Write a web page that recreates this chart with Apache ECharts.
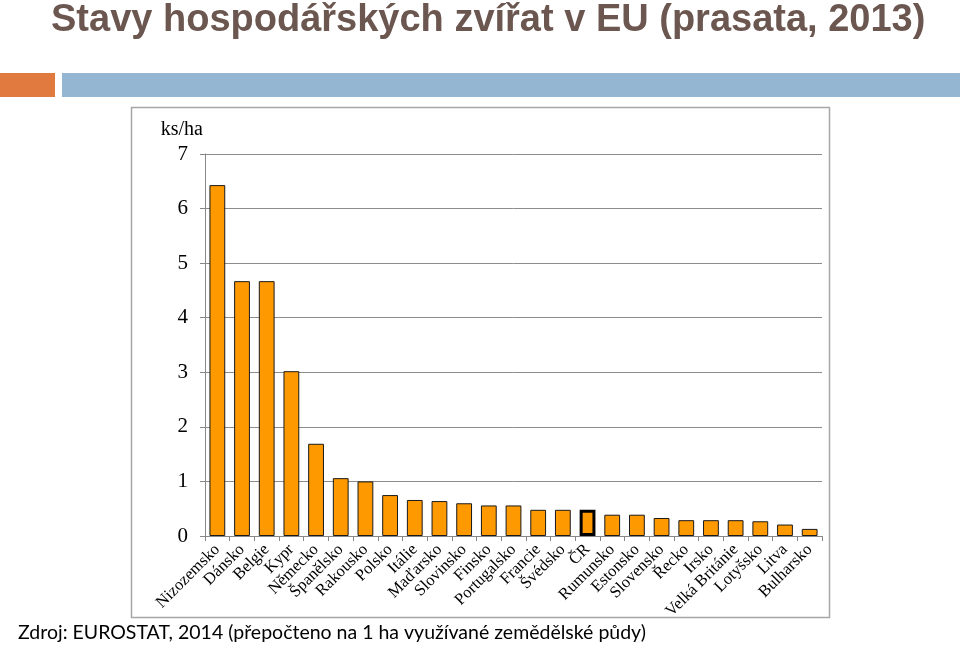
<!DOCTYPE html>
<html>
<head>
<meta charset="utf-8">
<script src="https://cdn.jsdelivr.net/npm/echarts@6/dist/echarts.min.js"></script>
<style>
  html, body { margin: 0; padding: 0; background: #fff; }
  #chart { width: 960px; height: 648px; }
</style>
</head>
<body>
<div id="chart"></div>
<script>
const countries = ["Nizozemsko", "Dánsko", "Belgie", "Kypr", "Německo", "Španělsko", "Rakousko", "Polsko", "Itálie", "Maďarsko", "Slovinsko", "Finsko", "Portugalsko", "Francie", "Švédsko", "ČR", "Rumunsko", "Estonsko", "Slovensko", "Řecko", "Irsko", "Velká Británie", "Lotyšsko", "Litva", "Bulharsko"];
const pigsPerHa = [6.43, 4.67, 4.67, 3.02, 1.69, 1.06, 1.0, 0.75, 0.66, 0.64, 0.6, 0.56, 0.56, 0.48, 0.48, 0.48, 0.39, 0.39, 0.33, 0.29, 0.29, 0.29, 0.27, 0.21, 0.13];
const highlight = "ČR";

const chart = echarts.init(document.querySelector("#chart"));

chart.setOption({
  animation: false,
  title: {
    text: "Stavy hospodářských zvířat v EU (prasata, 2013)",
    left: 46,
    top: -3,
    textStyle: { fontFamily: "Liberation Sans, sans-serif", fontSize: 38, fontWeight: "bold", color: "#6b5750" },
  },
  graphic: [
    { type: "rect", shape: { x: 0, y: 73, width: 55, height: 24 }, style: { fill: "#e07a3e" }, silent: true },
    { type: "rect", shape: { x: 62, y: 73, width: 898, height: 24 }, style: { fill: "#94b6d3" }, silent: true },
    { type: "rect", shape: { x: 131.5, y: 107.5, width: 698, height: 510 }, style: { fill: "none", stroke: "#a6a6a6", lineWidth: 1.5 }, silent: true, z: -1 },
    {
      type: "text",
      left: 18,
      top: 623,
      style: { text: "Zdroj: EUROSTAT, 2014 (přepočteno na 1 ha využívané zemědělské půdy)", font: "19.5px Lato, 'Noto Sans', sans-serif", fill: "#000" },
    },
  ],
  grid: { left: 205, right: 138, top: 154, bottom: 112 },
  xAxis: {
    type: "category",
    data: countries,
    axisLine: { lineStyle: { color: "#888" } },
    axisTick: { show: true, length: 5, lineStyle: { color: "#888" } },
    axisLabel: { interval: 0, rotate: 45, fontFamily: "Liberation Serif, serif", fontSize: 16.5, color: "#000", margin: 11 },
  },
  yAxis: {
    type: "value",
    min: 0,
    max: 7,
    interval: 1,
    name: "ks/ha",
    nameLocation: "end",
    nameGap: 14,
    nameTextStyle: { fontFamily: "Liberation Serif, serif", fontSize: 20, color: "#000", align: "right", padding: [0, 2, 0, 0] },
    axisLine: { show: true, lineStyle: { color: "#888" } },
    axisTick: { show: true, length: 5, lineStyle: { color: "#888" } },
    splitLine: { lineStyle: { color: "#8c8c8c" } },
    axisLabel: { fontFamily: "Liberation Serif, serif", fontSize: 21, color: "#000", margin: 17 },
  },
  series: [
    {
      type: "bar",
      barWidth: "64%",
      data: countries.map((name, i) => ({
        value: pigsPerHa[i],
        itemStyle: name === highlight ? { borderColor: "#000", borderWidth: 3 } : {},
      })),
      itemStyle: { color: "#ff9900", borderColor: "#1a1a1a", borderWidth: 1 },
    },
  ],
});
</script>
</body>
</html>
